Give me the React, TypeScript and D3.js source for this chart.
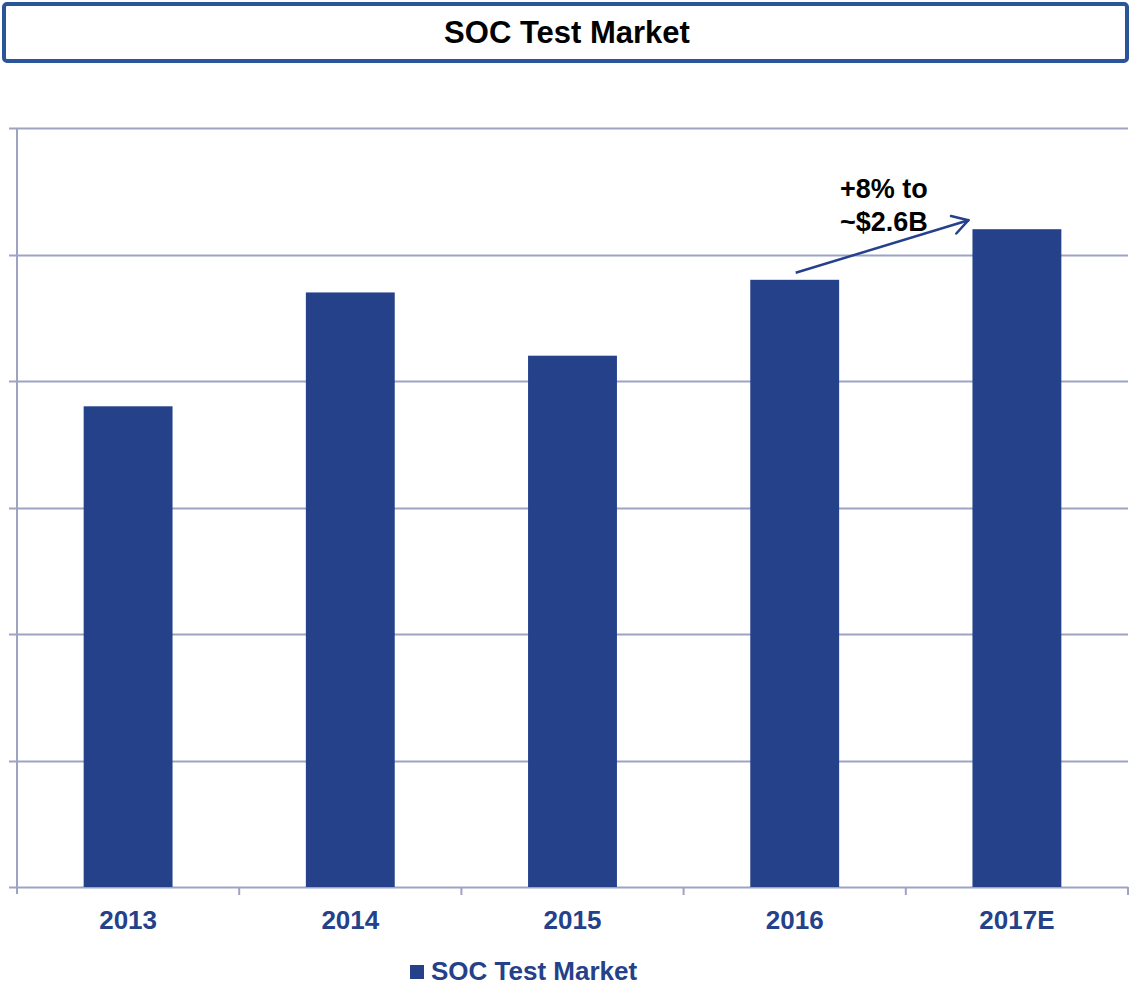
import React, { useEffect, useRef } from 'react';
import * as d3 from 'd3';

const years = ['2013', '2014', '2015', '2016', '2017E'];
const marketValues = [1.9, 2.35, 2.1, 2.4, 2.6]; // $B
const yTicks = [0, 0.5, 1, 1.5, 2, 2.5, 3];
const seriesName = 'SOC Test Market';
const annotationLines = ['+8% to', '~$2.6B'];

const BAR = '#24418a';
const GRID = '#9ea3c3';
const FONT = 'Arial, "Liberation Sans", sans-serif';

const App: React.FC = () => {
  const svgRef = useRef<SVGSVGElement>(null);

  useEffect(() => {
    if (!svgRef.current) return;
    const width = 1132;
    const height = 987;
    const margin = { top: 128, right: 4, bottom: 100, left: 17 };

    const svg = d3.select(svgRef.current);
    svg.selectAll('*').remove();

    // Title box
    svg.append('rect')
      .attr('x', 4).attr('y', 4)
      .attr('width', 1123).attr('height', 57)
      .attr('rx', 3)
      .attr('fill', 'white')
      .attr('stroke', '#2a5599')
      .attr('stroke-width', 4);
    svg.append('text')
      .attr('x', 567).attr('y', 43)
      .attr('text-anchor', 'middle')
      .attr('font-family', FONT)
      .attr('font-weight', 'bold')
      .attr('font-size', 31)
      .attr('fill', '#000')
      .text('SOC Test Market');

    const x = d3.scaleBand()
      .domain(years)
      .range([margin.left, width - margin.right])
      .paddingInner(0.6)
      .paddingOuter(0.3);

    const y = d3.scaleLinear()
      .domain([0, 3])
      .range([height - margin.bottom, margin.top]);

    // Gridlines
    svg.append('g')
      .selectAll('line')
      .data(yTicks)
      .enter()
      .append('line')
      .attr('x1', margin.left - 8)
      .attr('x2', width - margin.right)
      .attr('y1', d => Math.round(y(d)) + 0.5)
      .attr('y2', d => Math.round(y(d)) + 0.5)
      .attr('stroke', GRID)
      .attr('stroke-width', 2);

    // Y axis line
    svg.append('line')
      .attr('x1', margin.left).attr('x2', margin.left)
      .attr('y1', y(3)).attr('y2', y(0) + 7)
      .attr('stroke', GRID)
      .attr('stroke-width', 2);

    // X category boundary ticks
    const step = x.step();
    const bounds = years.map((_, i) => margin.left + i * step).concat([width - margin.right]);
    svg.append('g')
      .selectAll('line')
      .data(bounds.slice(1))
      .enter()
      .append('line')
      .attr('x1', d => d).attr('x2', d => d)
      .attr('y1', y(0)).attr('y2', y(0) + 8)
      .attr('stroke', GRID)
      .attr('stroke-width', 2);

    // Bars
    svg.append('g')
      .selectAll('rect')
      .data(marketValues)
      .enter()
      .append('rect')
      .attr('x', (_, i) => x(years[i])!)
      .attr('width', x.bandwidth())
      .attr('y', d => y(d))
      .attr('height', d => y(0) - y(d))
      .attr('fill', BAR);

    // Category labels
    svg.append('g')
      .selectAll('text')
      .data(years)
      .enter()
      .append('text')
      .attr('x', d => x(d)! + x.bandwidth() / 2)
      .attr('y', 929)
      .attr('text-anchor', 'middle')
      .attr('font-family', FONT)
      .attr('font-weight', 'bold')
      .attr('font-size', 26)
      .attr('fill', BAR)
      .text(d => d);

    // Growth arrow from 2016 to 2017E
    const x0 = x('2016')! + x.bandwidth() / 2 + 1;
    const y0 = y(marketValues[3]) - 7;
    const x1 = x('2017E')! - 4;
    const y1 = y(marketValues[4]) - 9;
    svg.append('line')
      .attr('x1', x0).attr('y1', y0)
      .attr('x2', x1).attr('y2', y1)
      .attr('stroke', BAR)
      .attr('stroke-width', 2.5);
    const ang = Math.atan2(y1 - y0, x1 - x0);
    const head = 18;
    [Math.PI * 0.83, -Math.PI * 0.83].forEach(a => {
      svg.append('line')
        .attr('x1', x1).attr('y1', y1)
        .attr('x2', x1 + head * Math.cos(ang + a))
        .attr('y2', y1 + head * Math.sin(ang + a))
        .attr('stroke', BAR)
        .attr('stroke-width', 2.5)
        .attr('stroke-linecap', 'round');
    });

    svg.append('g')
      .selectAll('text')
      .data(annotationLines)
      .enter()
      .append('text')
      .attr('x', 840)
      .attr('y', (_, i) => 198 + i * 33)
      .attr('font-family', FONT)
      .attr('font-weight', 'bold')
      .attr('font-size', 27)
      .attr('fill', '#000')
      .text(d => d);

    // Legend
    svg.append('rect')
      .attr('x', 410).attr('y', 965)
      .attr('width', 14).attr('height', 14)
      .attr('fill', BAR);
    svg.append('text')
      .attr('x', 431).attr('y', 980)
      .attr('font-family', FONT)
      .attr('font-weight', 'bold')
      .attr('font-size', 26)
      .attr('fill', BAR)
      .text(seriesName);
  }, []);

  return (
    <svg
      ref={svgRef}
      width={1132}
      height={987}
      style={{ position: 'absolute', top: 0, left: 0, background: 'white' }}
    />
  );
};

export default App;
